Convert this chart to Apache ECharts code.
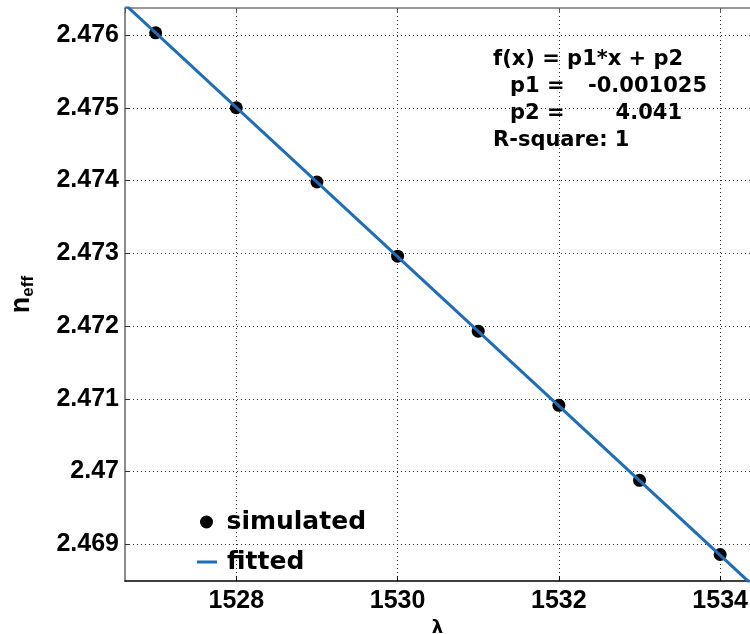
<!DOCTYPE html>
<html><head><meta charset="utf-8">
<script src="https://cdn.jsdelivr.net/npm/echarts@6/dist/echarts.min.js"></script>
<style>html,body{margin:0;padding:0;background:#fff}#c{width:750px;height:634px}</style>
</head><body><div id="c"></div>
<script>
// ---- data ----
const lambda = [1527, 1528, 1529, 1530, 1531, 1532, 1533, 1534];
const neffSimulated = [2.47603, 2.47500, 2.47398, 2.47296, 2.47193, 2.47091, 2.46988, 2.46886];
const fittedLambda = [1526.62, 1534.37];
const fittedNeff = [2.47642, 2.46847];
const xRange = [1526.62, 1534.37];
const yRange = [2.468496, 2.476371];
const fitLines = ['f(x) = p1*x + p2', 'p1 =', '-0.001025', 'p2 =', '4.041', 'R-square: 1'];

const FONT = 'DejaVu Sans';
const TICKFONT = 'Liberation Sans';
const chart = echarts.init(document.getElementById('c'));
const dotted = { type: [1, 3], color: '#333', width: 1 };

chart.setOption({
  animation: false,
  backgroundColor: '#fff',
  grid: { left: 125, right: 0, top: 8, bottom: 53, containLabel: false, outerBoundsMode: 'none' },
  legend: [{
    orient: 'vertical', left: 200, top: 508, padding: 0,
    itemWidth: 14, itemHeight: 13,
    textStyle: { fontFamily: FONT, fontWeight: 'bold', fontSize: 25, color: '#000', lineHeight: 28, padding: [0, 0, 0, 8] },
    data: [{ name: 'simulated', icon: 'circle', itemStyle: { color: '#000', opacity: 1 } }]
  }, {
    orient: 'vertical', left: 197, top: 548, padding: 0,
    itemWidth: 20, itemHeight: 3,
    textStyle: { fontFamily: FONT, fontWeight: 'bold', fontSize: 25, color: '#000', lineHeight: 28, padding: [0, 0, 0, 5] },
    data: [{ name: 'fitted', icon: 'rect', itemStyle: { color: '#1f6db6' } }]
  }],
  xAxis: [{
    type: 'value', min: xRange[0], max: xRange[1], splitNumber: 4,
    axisLine: { lineStyle: { color: '#000', width: 1.5 } },
    axisTick: { inside: true, length: 5, lineStyle: { color: '#000' } },
    axisLabel: {
      showMinLabel: false, showMaxLabel: false, margin: 8,
      fontFamily: TICKFONT, fontWeight: 'bold', fontSize: 25, color: '#000',
      formatter: v => (Math.abs(v / 2 - Math.round(v / 2)) < 1e-6 ? String(Math.round(v)) : '')
    },
    splitLine: { show: true, showMinLine: false, showMaxLine: false, lineStyle: dotted },
    name: 'λ', nameLocation: 'middle', nameGap: 35,
    nameTextStyle: { fontFamily: FONT, fontWeight: 'bold', fontSize: 18, color: '#000' }
  }, {
    type: 'value', position: 'top', min: xRange[0], max: xRange[1], splitNumber: 4,
    axisLine: { lineStyle: { color: '#777', width: 1.5 } },
    axisTick: { inside: true, length: 5, lineStyle: { color: '#555' } },
    axisLabel: { show: false }, splitLine: { show: false }
  }],
  yAxis: [{
    type: 'value', min: yRange[0], max: yRange[1], splitNumber: 8,
    axisLine: { show: true, lineStyle: { color: '#666', width: 1.5 } },
    axisTick: { show: true, inside: true, length: 5, lineStyle: { color: '#333' } },
    axisLabel: {
      showMinLabel: false, showMaxLabel: false, margin: 6,
      fontFamily: TICKFONT, fontWeight: 'bold', fontSize: 25, color: '#000',
      formatter: v => (Math.abs(v * 1000 - Math.round(v * 1000)) < 1e-6 ? String(+(+v).toFixed(3)) : '')
    },
    splitLine: { show: true, showMinLine: false, showMaxLine: false, lineStyle: dotted },
    name: '{n|n}{s|eff}', nameLocation: 'middle', nameRotate: 90, nameGap: 88,
    nameTextStyle: {
      color: '#000',
      rich: {
        n: { fontFamily: TICKFONT, fontWeight: 'bold', fontSize: 27, color: '#000', lineHeight: 30, verticalAlign: 'middle' },
        s: { fontFamily: TICKFONT, fontWeight: 'bold', fontSize: 17, color: '#000', lineHeight: 30, verticalAlign: 'bottom' }
      }
    }
  }],
  series: [{
    name: 'simulated', type: 'scatter', z: 2,
    symbol: 'circle', symbolSize: 13,
    itemStyle: { color: '#000', opacity: 1 },
    data: lambda.map((x, i) => [x, neffSimulated[i]])
  }, {
    name: 'fitted', type: 'line', z: 3, symbol: 'none', showSymbol: false,
    lineStyle: { color: '#1f6db6', width: 3 },
    itemStyle: { color: '#1f6db6' },
    data: fittedLambda.map((x, i) => [x, fittedNeff[i]])
  }],
  graphic: [
    { type: 'text', x: 493, y: 60, style: { text: fitLines[0], font: 'bold 21px "DejaVu Sans"', fill: '#000', verticalAlign: 'middle' } },
    { type: 'text', x: 510, y: 87, style: { text: fitLines[1], font: 'bold 21px "DejaVu Sans"', fill: '#000', verticalAlign: 'middle' } },
    { type: 'text', x: 707, y: 87, style: { text: fitLines[2], font: 'bold 21px "DejaVu Sans"', fill: '#000', align: 'right', verticalAlign: 'middle' } },
    { type: 'text', x: 510, y: 114, style: { text: fitLines[3], font: 'bold 21px "DejaVu Sans"', fill: '#000', verticalAlign: 'middle' } },
    { type: 'text', x: 682, y: 114, style: { text: fitLines[4], font: 'bold 21px "DejaVu Sans"', fill: '#000', align: 'right', verticalAlign: 'middle' } },
    { type: 'text', x: 493, y: 141, style: { text: fitLines[5], font: 'bold 21px "DejaVu Sans"', fill: '#000', verticalAlign: 'middle' } }
  ]
});
</script></body></html>
